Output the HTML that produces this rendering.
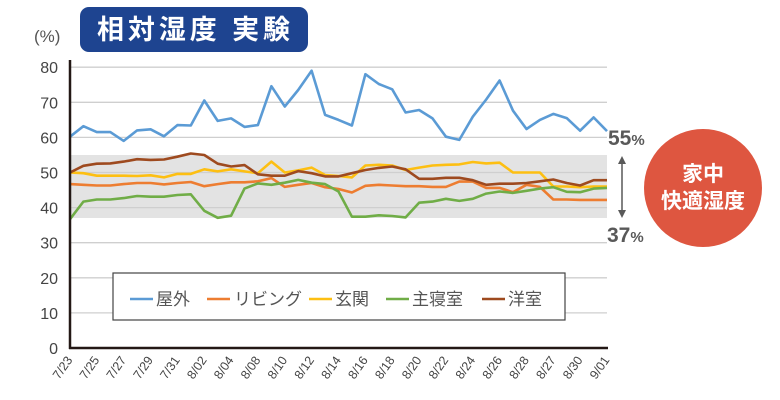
<!DOCTYPE html>
<html><head><meta charset="utf-8"><style>
html,body{margin:0;padding:0;background:#fff;width:780px;height:400px;overflow:hidden}
svg text{font-family:"Liberation Sans","Noto Sans CJK JP",sans-serif}
</style></head><body>
<svg id="s" width="780" height="400" viewBox="0 0 780 400" xmlns="http://www.w3.org/2000/svg">
<rect x="70" y="155" width="537" height="63" fill="#e3e3e3"/>
<g id="grid" stroke="#cfcfcf" stroke-width="1.3"></g>
<g id="ylab" font-size="16" fill="#444" text-anchor="end"></g>
<g id="xlab" font-size="12.5" fill="#444" text-anchor="end"></g>
<g id="lines" fill="none" stroke-width="2.6" stroke-linejoin="round"></g>
<line x1="70" y1="60" x2="70" y2="349" stroke="#231815" stroke-width="2.5"/>
<line x1="69" y1="348" x2="608" y2="348" stroke="#231815" stroke-width="2.5"/>
<rect x="80" y="7" width="228" height="45" rx="9" fill="#1e4490"/>
<text x="97" y="39" font-size="27" font-weight="bold" fill="#fff" textLength="193" lengthAdjust="spacing">相対湿度 実験</text>
<text x="34" y="42" font-size="17" fill="#555">(%)</text>
<rect x="113" y="273" width="452" height="47" fill="#fff" stroke="#444" stroke-width="1.2"/>
<g font-size="17" fill="#555">
<line x1="130" y1="299" x2="153" y2="299" stroke="#5b9bd5" stroke-width="2.5"/><text x="156" y="305">屋外</text>
<line x1="207" y1="299" x2="230" y2="299" stroke="#ed7d31" stroke-width="2.5"/><text x="234" y="305">リビング</text>
<line x1="309" y1="299" x2="332" y2="299" stroke="#fdbf12" stroke-width="2.5"/><text x="335" y="305">玄関</text>
<line x1="386" y1="299" x2="409" y2="299" stroke="#70ad47" stroke-width="2.5"/><text x="412" y="305">主寝室</text>
<line x1="482" y1="299" x2="505" y2="299" stroke="#9e4a1f" stroke-width="2.5"/><text x="508" y="305">洋室</text>
</g>
<text x="608" y="145" font-size="21" font-weight="bold" fill="#595959">55<tspan font-size="15">%</tspan></text>
<text x="607" y="242" font-size="21" font-weight="bold" fill="#595959">37<tspan font-size="15">%</tspan></text>
<line x1="622" y1="160" x2="622" y2="214" stroke="#595959" stroke-width="1.5"/>
<path d="M618,164 L622,156 L626,164 Z M618,210 L622,218 L626,210 Z" fill="#595959"/>
<circle cx="703" cy="188" r="59" fill="#de5640"/>
<text x="703" y="181" font-size="21" font-weight="bold" fill="#fff" text-anchor="middle">家中</text>
<text x="703" y="208" font-size="21" font-weight="bold" fill="#fff" text-anchor="middle">快適湿度</text>
</svg>
<script>
var NS="http://www.w3.org/2000/svg";
function Y(v){return 348-3.51*v}
function X(i){return 70+i*537/40}
function el(t,a,p,txt){var e=document.createElementNS(NS,t);for(var k in a)e.setAttribute(k,a[k]);if(txt)e.textContent=txt;p.appendChild(e);return e}
var g=document.getElementById('grid'),yl=document.getElementById('ylab');
for(var v=0;v<=80;v+=10){if(v>0)el('line',{x1:70,x2:607,y1:Y(v),y2:Y(v)},g);el('text',{x:58,y:Y(v)+6},yl,String(v));}
var labs=["7/23","7/25","7/27","7/29","7/31","8/02","8/04","8/08","8/10","8/12","8/14","8/16","8/18","8/20","8/22","8/24","8/26","8/28","8/27","8/30","9/01"];
var xl=document.getElementById('xlab');
labs.forEach(function(l,k){var x=X(2*k)+3,y=360;el('text',{x:x,y:y,transform:'rotate(-55 '+x+' '+y+')'},xl,l)});
var D={
"#5b9bd5":[60.2,63.2,61.5,61.5,59,62,62.3,60.3,63.5,63.4,70.5,64.7,65.4,63,63.5,74.6,68.8,73.5,79,66.4,65,63.4,78,75.2,73.7,67.1,67.8,65.4,60.2,59.3,65.9,70.8,76.2,67.6,62.4,65,66.7,65.5,61.9,65.7,61.8],
"#ed7d31":[46.7,46.5,46.3,46.3,46.7,47,47,46.6,47,47.3,46.1,46.7,47.2,47.2,47.5,48.4,45.9,46.5,47,45.8,45.3,44.3,46.2,46.5,46.3,46.1,46.1,45.9,45.9,47.4,47.4,45.6,45.6,44.4,46.5,45.9,42.3,42.3,42.2,42.2,42.2],
"#fdbf12":[50,49.8,49.1,49.1,49.1,49,49.2,48.6,49.6,49.6,50.9,50.3,50.9,50.3,49.8,53.1,50,50.6,51.4,49.3,49,48.6,52,52.2,52,50.7,51.4,52,52.2,52.3,53,52.6,52.8,50,50,50,46,46,45.8,46,46],
"#70ad47":[36.7,41.7,42.3,42.3,42.7,43.3,43.1,43.1,43.6,43.8,39.1,37.1,37.7,45.4,46.9,46.5,47.1,47.9,47.1,46.7,44.6,37.4,37.4,37.8,37.6,37.2,41.4,41.7,42.5,41.9,42.5,44,44.6,44.2,44.8,45.4,45.8,44.5,44.4,45.4,45.6],
"#9e4a1f":[50,51.9,52.5,52.6,53.1,53.8,53.6,53.7,54.5,55.4,55,52.5,51.7,52.1,49.5,49.1,49.1,50.4,49.8,48.9,48.9,49.8,50.7,51.3,51.7,50.9,48.2,48.2,48.5,48.5,47.8,46.5,46.8,46.8,47,47.5,48,47,46.3,47.8,47.8]};
var L=document.getElementById('lines');
for(var c in D){el('polyline',{stroke:c,points:D[c].map(function(v,i){return X(i).toFixed(1)+','+Y(v).toFixed(1)}).join(' ')},L)}
</script>
</body></html>
